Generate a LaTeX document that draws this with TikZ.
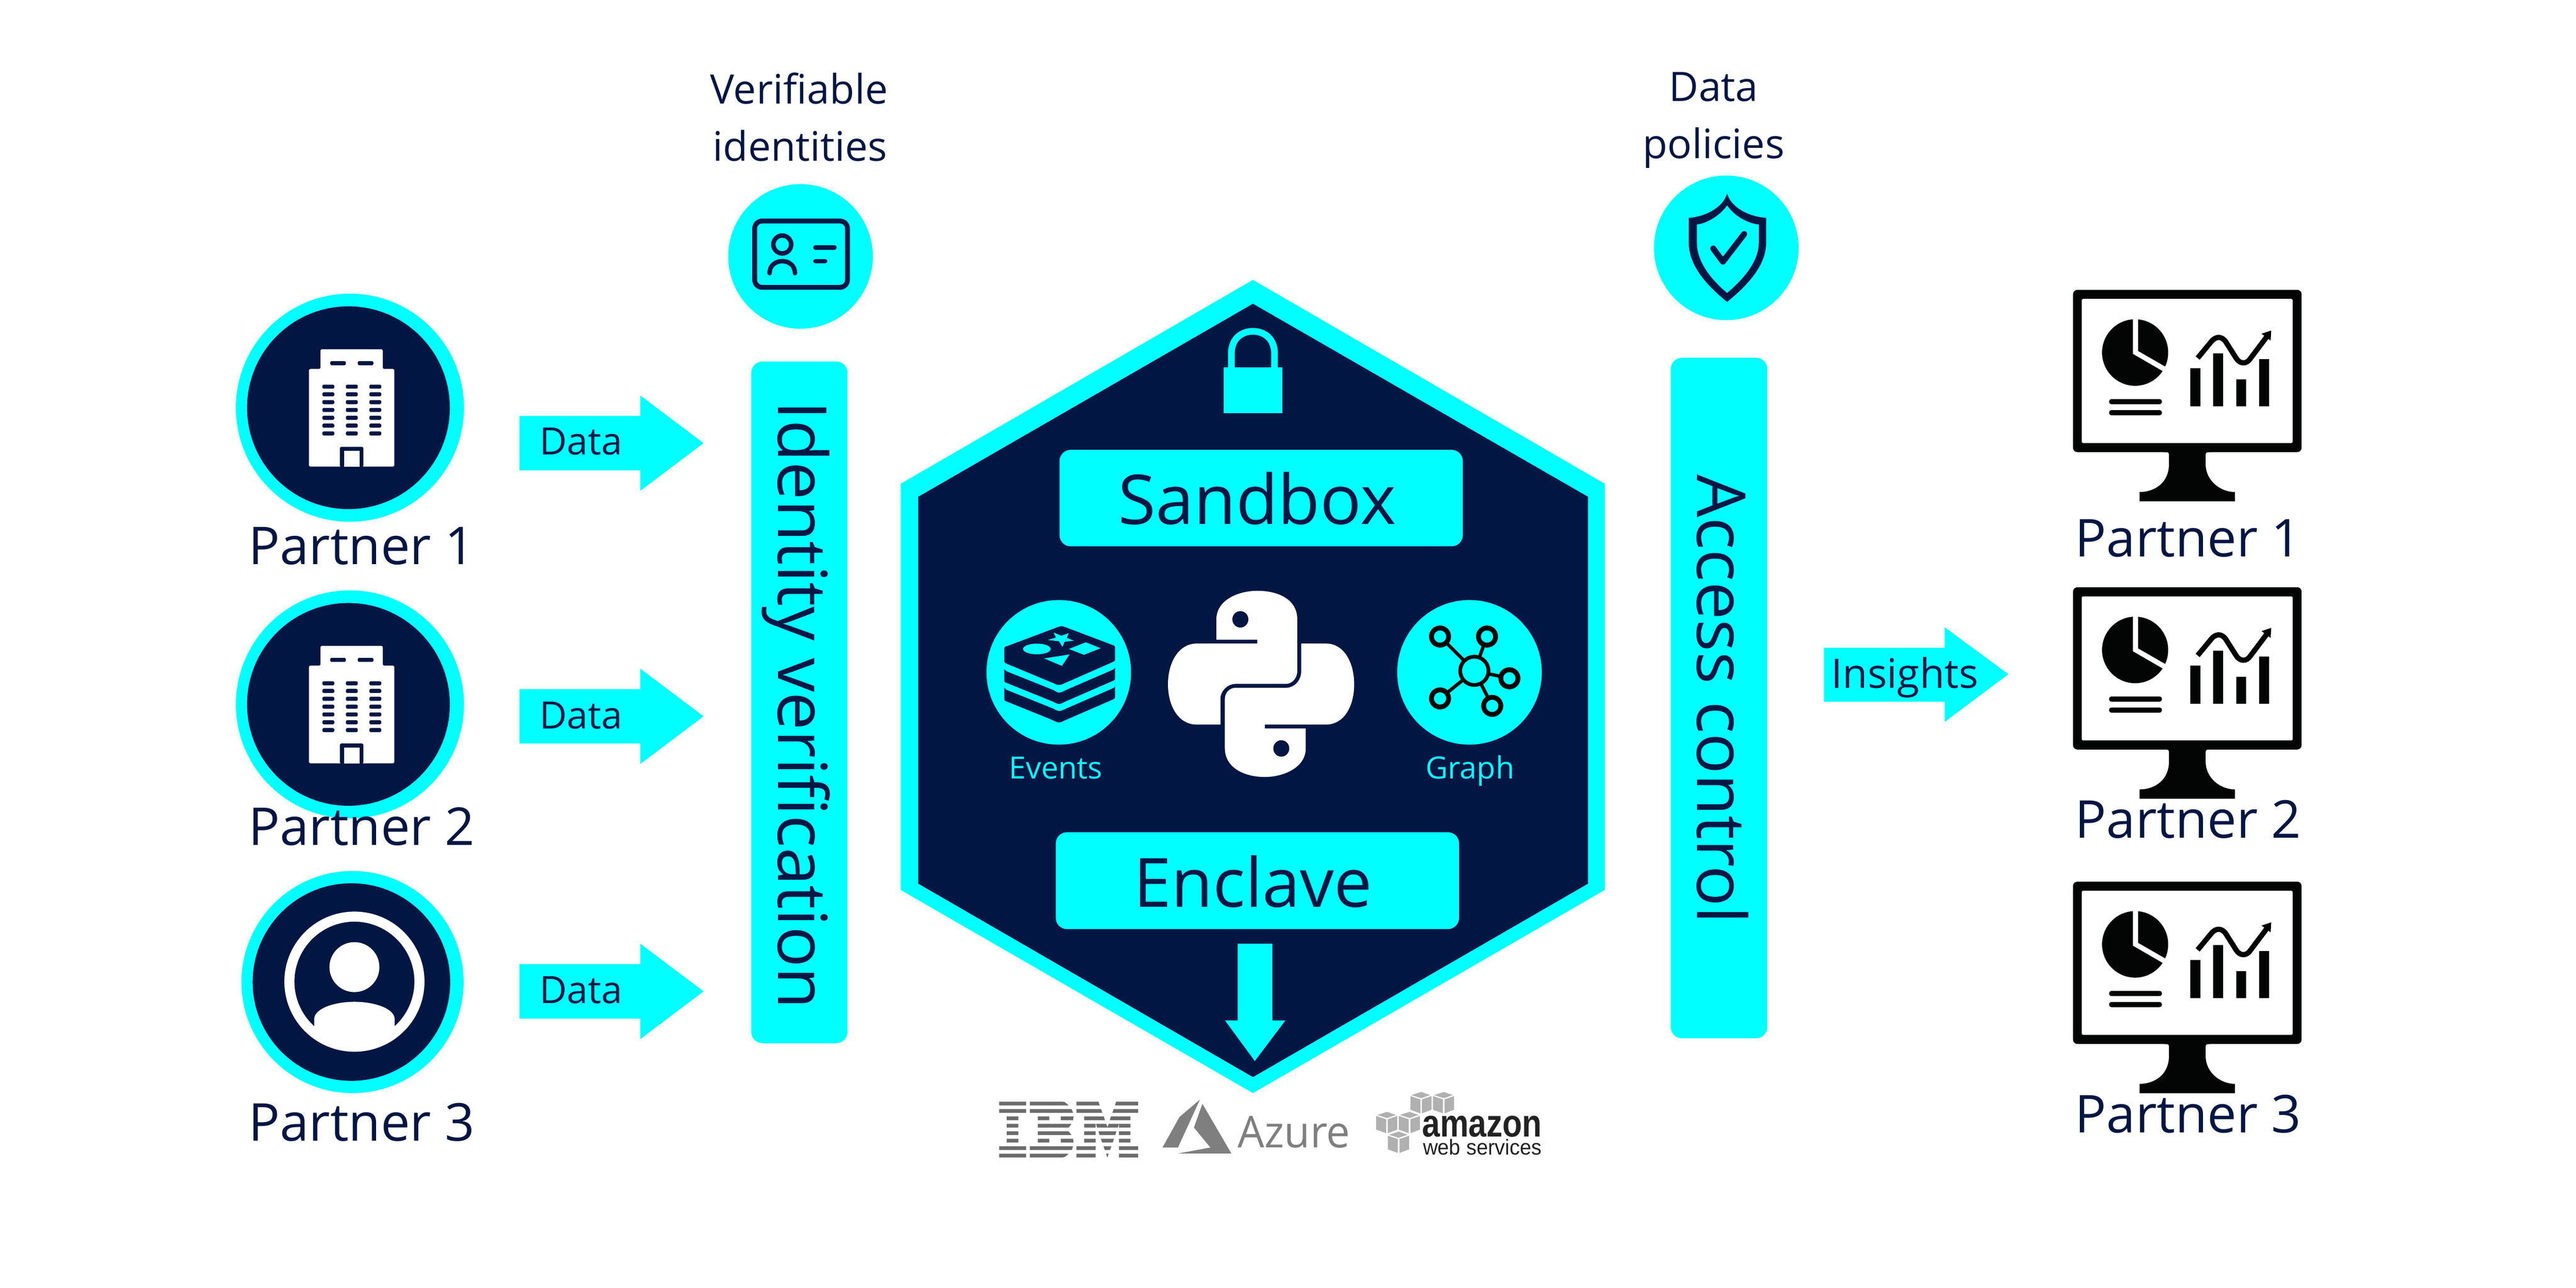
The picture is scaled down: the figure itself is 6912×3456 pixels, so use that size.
\documentclass[tikz,border=0pt]{standalone}
\usepackage{fontspec}
\setmainfont[Ligatures=NoCommon]{Open Sans}
\newfontfamily\libs{Liberation Sans}
\definecolor{navy}{HTML}{021644}
\definecolor{cyn}{HTML}{00FFFF}
\definecolor{blk}{HTML}{030504}
\definecolor{ibmg}{HTML}{6B6B6B}
\definecolor{azg}{HTML}{7F7F7F}
\definecolor{cubeg}{HTML}{B0B0B0}
\definecolor{amz}{HTML}{222222}
\newcommand\fs[1]{\fontsize{#1pt}{#1pt}\selectfont}
\tikzset{
  lbl/.style={inner sep=0pt,text=navy,anchor=base},
  lblw/.style={inner sep=0pt,text=navy,anchor=base west},
  vlbl/.style={inner sep=0pt,text=navy,anchor=base,rotate=-90},
  zoomtwo/.style={shift={(2400,700)},x=1.3393pt,y=-0.957pt},
  zoomthree/.style={shift={(2400,2200)},x=1.3393pt,y=-0.67pt},
  zoomfive/.style={shift={(1850,100)},x=1.976pt,y=-0.51pt}
}
\newcommand\bldg[1]{%
 \begin{scope}[shift={(0,#1)}]
  \fill[white,rounded corners=4pt] (860,990) -- (860,937) -- (1027,937) -- (1027,990) -- (1058,990) -- (1058,1252) -- (829,1252) -- (829,990) -- cycle;
  \fill[navy,rounded corners=4pt] (886,969) rectangle (928,980) (960,969) rectangle (1002,980);
  \foreach \yy in {1037.5,1058,1079,1100,1121,1142,1163}{
    \foreach \xx in {865,928,991}{
      \fill[navy,rounded corners=4pt] (\xx,\yy-5.5) rectangle (\xx+32,\yy+5.5);
    }
  }
  \fill[navy,rounded corners=4pt] (912,1253) -- (912,1199) -- (975,1199) -- (975,1253) -- cycle;
  \fill[white] (923,1210) rectangle (965,1252);
 \end{scope}}
\newcommand\mon[1]{%
 \begin{scope}[shift={(5500,720+#1)},x=0.51pt,y=-0.51pt]
  \fill[blk,rounded corners=12pt] (122,113) rectangle (1325,967);
  \fill[white,rounded corners=4pt] (168,161) rectangle (1278,919);
  \fill[blk] (600,960) -- (600,967) .. controls (627,967) .. (627,990) -- (627,1030) .. controls (627,1130) and (550,1177) .. (472,1177) -- (472,1226) -- (974,1226) -- (974,1177) .. controls (900,1177) and (820,1120) .. (820,1030) -- (820,990) .. controls (820,967) .. (847,967) -- (847,960) -- cycle;
  \begin{scope}
   \clip (437,200) -- (437,450) -- (620,556) -- (620,700) -- (200,700) -- (200,200) -- cycle;
   \fill[blk] (449,443) ellipse [x radius=174,y radius=175];
  \end{scope}
  \begin{scope}
   \clip (465,200) -- (465,435) -- (700,570) -- (700,200) -- cycle;
   \fill[blk] (449,443) ellipse [x radius=174,y radius=175];
  \end{scope}
  \fill[blk,rounded corners=6pt] (312,688) rectangle (590,715) (312,746) rectangle (590,773);
  \fill[blk] (739,525) rectangle (792,726) (859,447) rectangle (912,726) (981,584) rectangle (1033,726) (1102,478) rectangle (1154,726);
  \draw[blk,line width=14pt] (778,472) -- (850,385) .. controls (875,355) and (905,358) .. (925,385) -- (980,472) .. controls (1000,505) and (1035,505) .. (1055,475) -- (1140,362);
  \fill[blk] (1114,344) -- (1165,327) -- (1162,380) -- cycle;
 \end{scope}}
\newcommand\cubeg[2]{%
 \begin{scope}[shift={(#1,#2)}]
  \fill[cubeg] (262,25) -- (340,0) -- (412,25) -- (340,50) -- cycle;
  \fill[cubeg] (253,33) -- (333,60) -- (333,172) -- (253,143) -- cycle;
  \fill[cubeg] (346,60) -- (423,33) -- (423,143) -- (346,172) -- cycle;
 \end{scope}}
\newcommand\dataarrow[1]{%
 \fill[cyn] (1394,#1-73) -- (1718,#1-73) -- (1718,#1-128) -- (1888,#1) -- (1718,#1+128) -- (1718,#1+73) -- (1394,#1+73) -- cycle;}
\begin{document}
\begin{tikzpicture}[x=1pt,y=-1pt]
\useasboundingbox (0,0) rectangle (6912,3456);
\fill[white] (0,0) rectangle (6912,3456);

% left partners
\fill[cyn] (939,1094) circle [radius=306];
\fill[navy] (935,1094) circle [radius=272];
\bldg{0}
\node[lblw] (lp1) at (667,1515) {\fs{140}Partner 1};
\fill[cyn] (939,1890) circle [radius=306];
\fill[navy] (935,1890) circle [radius=272];
\bldg{796}
\node[lblw] (lp2) at (667,2268) {\fs{140}Partner 2};
\fill[cyn] (946,2635) circle [radius=298];
\fill[navy] (943,2635) circle [radius=265];
\draw[white,line width=27pt] (951,2634) circle [radius=174.5];
\fill[white] (951,2595) circle [radius=67];
\begin{scope}
 \clip (951,2634) circle [radius=180];
 \fill[white] (843,2860) -- (843,2735) .. controls (843,2705) and (900,2688) .. (951,2688) .. controls (1002,2688) and (1059,2705) .. (1059,2735) -- (1059,2860) -- cycle;
\end{scope}
\node[lblw] (lp3) at (667,3061) {\fs{140}Partner 3};

% data arrows
\dataarrow{1189}
\dataarrow{1922}
\dataarrow{2660}
\node[lblw] (d1) at (1448,1220) {\fs{101}Data};
\node[lblw] (d2) at (1448,1955) {\fs{101}Data};
\node[lblw] (d3) at (1448,2692) {\fs{101}Data};

% identity bar
\fill[cyn,rounded corners=30pt] (2016,970) rectangle (2274,2799);
\node[vlbl] (idv) at (2088,1892) {\fs{182}Identity verification};
\node[lbl] (v1) at (2144,279) {\fs{109}Verifiable};
\node[lbl] (v2) at (2147,432) {\fs{109}identities};
\fill[cyn] (2148,688) circle [radius=194];
\draw[navy,line width=13pt,rounded corners=20pt] (2025,593) rectangle (2274,771);
\draw[navy,line width=12pt] (2099,656) circle [radius=24];
\draw[navy,line width=12pt,line cap=round] (2065,733) .. controls (2065,690) and (2133,690) .. (2133,733);
\draw[navy,line width=12pt,line cap=round] (2188,664) -- (2239,664) (2188,701) -- (2214,701);

% access bar
\fill[cyn,rounded corners=30pt] (4483,960) rectangle (4742,2786);
\node[vlbl] (acc) at (4554,1876) {\fs{181}Access control};
\node[lbl] (p1) at (4598,272) {\fs{109}Data};
\node[lbl] (p2) at (4598,425) {\fs{109}policies};
\fill[cyn] (4632,665) circle [radius=194];
\begin{scope}[zoomfive]
 \fill[navy] (1409,823) .. controls (1415,900) and (1440,945) .. (1462,950) -- (1462,1080) .. controls (1462,1180) and (1445,1280) .. (1409,1392) .. controls (1373,1280) and (1357,1180) .. (1357,1080) -- (1357,950) .. controls (1378,945) and (1403,900) .. cycle;
 \fill[cyn] (1409,885) .. controls (1420,945) and (1438,980) .. (1452,985) -- (1452,1080) .. controls (1452,1170) and (1435,1260) .. (1409,1345) .. controls (1383,1260) and (1368,1170) .. (1368,1080) -- (1368,985) .. controls (1380,980) and (1398,945) .. cycle;
\end{scope}
\draw[navy,line width=16pt,line cap=round,line join=round] (4597,667) -- (4623,702) -- (4680,628);

% hexagon
\fill[cyn] (3362,751) -- (4306,1298) -- (4306,2388) -- (3362,2933) -- (2417,2388) -- (2417,1298) -- cycle;
\fill[navy] (3362,815) -- (4261,1333) -- (4261,2371) -- (3362,2890) -- (2464,2371) -- (2464,1333) -- cycle;
% lock
\fill[cyn] (3283,985) rectangle (3441,1108);
\draw[cyn,line width=18pt] (3304,990) -- (3304,950) .. controls (3304,905) and (3335,889) .. (3362,889) .. controls (3389,889) and (3420,905) .. (3420,950) -- (3420,990);
% sandbox, enclave
\fill[cyn,rounded corners=30pt] (2843,1207) rectangle (3925,1466);
\node[lbl] (sb) at (3373,1406) {\fs{184}Sandbox};
\fill[cyn,rounded corners=30pt] (2833,2233) rectangle (3915,2493);
\node[lbl] (en) at (3362,2434) {\fs{182}Enclave};
% arrow down
\fill[cyn] (3321,2532) -- (3414,2532) -- (3414,2738) -- (3449,2738) -- (3367,2847) -- (3287,2738) -- (3321,2738) -- cycle;

% events
\fill[cyn] (2841,1804) circle [radius=194];
\begin{scope}[shift={(2640,1600)},x=0.3333pt,y=-0.3333pt]
 \fill[navy] (164,735) .. controls (170,745) .. (180,752) -- (560,905) .. controls (605,930) .. (660,905) -- (1040,740) .. controls (1050,735) .. (1056,722) -- (1056,810) .. controls (1055,820) .. (1040,830) -- (660,995) .. controls (605,1022) .. (550,995) -- (180,845) .. controls (165,838) .. (164,825) -- cycle;
 \fill[navy] (164,585) .. controls (170,595) .. (185,605) -- (560,755) .. controls (605,783) .. (660,755) -- (1030,595) .. controls (1050,585) .. (1056,572) -- (1056,662) .. controls (1055,672) .. (1040,680) -- (660,845) .. controls (605,873) .. (550,845) -- (190,700) .. controls (165,690) .. (164,678) -- cycle;
 \fill[navy] (164,420) .. controls (165,408) .. (190,400) -- (590,250) .. controls (625,238) .. (660,250) -- (1030,390) .. controls (1050,397) .. (1056,408) -- (1056,510) .. controls (1055,520) .. (1035,530) -- (660,695) .. controls (605,720) .. (550,695) -- (190,545) .. controls (170,537) .. (164,525) -- cycle;
 \fill[cyn] (427,424) ellipse [x radius=111,y radius=43];
 \fill[cyn] (685,424) -- (820,370) -- (940,418) -- (806,471) -- cycle;
 \fill[cyn] (485,500) -- (690,468) -- (628,560) -- cycle;
 \fill[cyn] (562,292) -- (623,317) -- (683,297) -- (667,335) -- (725,357) -- (650,366) -- (632,407) -- (605,362) -- (515,352) -- (580,332) -- cycle;
\end{scope}
\node[lbl,text=cyn] (ev) at (2833,2090) {\fs{82}Events};

% python
\begin{scope}[zoomtwo]
 \fill[white] (645,1062) -- (645,1005) .. controls (645,950) and (690,925) .. (727,925) .. controls (770,925) and (807,950) .. (807,1005) -- (807,1150) .. controls (807,1172) and (795,1186) .. (785,1186) -- (683,1186) .. controls (668,1186) and (653,1205) .. (653,1228) -- (653,1300) -- (605,1300) .. controls (570,1300) and (548,1250) .. (548,1187) .. controls (548,1125) and (570,1073) .. (605,1073) -- (727,1073) -- (727,1062) -- cycle;
 \fill[white] (815,1073) -- (865,1073) .. controls (900,1073) and (921,1125) .. (921,1187) .. controls (921,1250) and (900,1300) .. (865,1300) -- (742,1300) -- (742,1311) -- (824,1311) -- (824,1367) .. controls (824,1420) and (780,1447) .. (742,1447) .. controls (700,1447) and (662,1420) .. (662,1367) -- (662,1228) .. controls (662,1210) and (672,1197) .. (683,1197) -- (785,1197) .. controls (800,1197) and (815,1178) .. (815,1150) -- cycle;
 \fill[navy] (693,1005) ellipse [x radius=16,y radius=23];
 \fill[navy] (775,1367) ellipse [x radius=16,y radius=23];
\end{scope}

% graph
\fill[cyn] (3943,1804) circle [radius=194];
\draw[blk,line width=9pt] (3956,1800) -- (3864,1708) (3956,1800) -- (3990,1708) (3956,1800) -- (4050,1820) (3956,1800) -- (3864,1874) (3956,1800) -- (4004,1894);
\foreach \cx/\cy in {3864/1708,3990/1708,4050/1820,3864/1874,4004/1894}{
  \draw[blk,fill=cyn,line width=13pt] (\cx,\cy) circle [radius=23];
}
\draw[blk,fill=cyn,line width=10pt] (3956,1800) circle [radius=38];
\node[lbl,text=cyn] (gr) at (3945,2090) {\fs{82}Graph};

% logos: IBM
\begin{scope}[shift={(2660,2930)},x=0.3333pt,y=-0.3333pt]
 \fill[ibmg] (63,78) rectangle (280,108) (63,137) rectangle (280,167) (63,437) rectangle (280,467) (63,497) rectangle (280,527);
 \fill[ibmg] (124,197) rectangle (217,227) (124,257) rectangle (217,287) (124,317) rectangle (217,347) (124,377) rectangle (217,407);
 \fill[ibmg] (311,78) -- (555,78) .. controls (590,78) .. (622,108) -- (311,108) -- cycle;
 \fill[ibmg] (311,137) -- (645,137) -- (658,167) -- (311,167) -- cycle;
 \fill[ibmg] (374,197) rectangle (466,227) (560,197) -- (662,197) -- (658,227) -- (560,227) -- cycle;
 \fill[ibmg] (374,257) -- (645,257) -- (622,287) -- (374,287) -- cycle;
 \fill[ibmg] (374,317) -- (622,317) -- (645,347) -- (374,347) -- cycle;
 \fill[ibmg] (374,377) rectangle (466,407) (560,377) -- (658,377) -- (662,407) -- (560,407) -- cycle;
 \fill[ibmg] (311,437) -- (658,437) -- (648,467) -- (311,467) -- cycle;
 \fill[ibmg] (311,497) -- (622,497) .. controls (590,527) .. (555,527) -- (311,527) -- cycle;
 \fill[ibmg] (685,78) -- (862,78) -- (873,108) -- (685,108) -- cycle;
 \fill[ibmg] (1005,78) -- (1182,78) -- (1182,108) -- (995,108) -- cycle;
 \fill[ibmg] (685,137) -- (883,137) -- (893,167) -- (685,167) -- cycle;
 \fill[ibmg] (985,137) -- (1182,137) -- (1182,167) -- (975,167) -- cycle;
 \fill[ibmg] (747,197) -- (905,197) -- (915,227) -- (747,227) -- cycle;
 \fill[ibmg] (963,197) -- (1120,197) -- (1120,227) -- (953,227) -- cycle;
 \fill[ibmg] (747,257) rectangle (840,287) (1027,257) rectangle (1120,287);
 \fill[ibmg] (843,257) -- (925,257) -- (935,283) -- (945,257) -- (1027,257) -- (1018,287) -- (851,287) -- cycle;
 \fill[ibmg] (747,317) rectangle (840,347) (1027,317) rectangle (1120,347);
 \fill[ibmg] (862,317) -- (1007,317) -- (997,347) -- (872,347) -- cycle;
 \fill[ibmg] (747,377) rectangle (840,407) (1027,377) rectangle (1120,407);
 \fill[ibmg] (882,377) -- (987,377) -- (977,407) -- (892,407) -- cycle;
 \fill[ibmg] (685,437) rectangle (840,467) (1027,437) rectangle (1182,467);
 \fill[ibmg] (903,437) -- (966,437) -- (955,467) -- (913,467) -- cycle;
 \fill[ibmg] (685,497) rectangle (840,527) (1027,497) rectangle (1182,527);
 \fill[ibmg] (923,497) -- (945,497) -- (934,527) -- cycle;
\end{scope}

% Azure
\begin{scope}[zoomthree]
 \fill[azg] (537,1312) -- (571,1190) -- (612,1120) -- (568,1312) -- cycle;
 \fill[azg] (617,1137) -- (675,1336) -- (568,1336) -- (633,1312) -- (600,1232) -- cycle;
\end{scope}
\node[inner sep=0pt,anchor=base west,text=azg,xscale=0.96,transform shape] (az) at (3321,3079) {\fs{118}Azure};

% Amazon
\begin{scope}[shift={(3700,2930)},x=0.3333pt,y=-0.3333pt]
 \cubeg{0}{0}
 \cubeg{182}{0}
 \cubeg{-275}{160}
 \cubeg{-93}{160}
 \cubeg{-181}{319}
\end{scope}
\node[inner sep=0pt,anchor=base west,text=amz,xscale=0.83,transform shape] (am) at (3816,3050) {\libs\bfseries\fs{104}amazon};
\node[inner sep=0pt,anchor=base west,text=amz,xscale=0.95,transform shape] (ws) at (3818,3099) {\libs\fs{58}web services};

% insights
\fill[cyn] (4894,1738) -- (5218,1738) -- (5218,1683) -- (5389,1809) -- (5218,1937) -- (5218,1883) -- (4894,1883) -- cycle;
\node[lblw] (ins) at (4914,1846) {\fs{109}Insights};

% monitors
\mon{0}
\mon{798}
\mon{1588}
\node[lblw] (rp1) at (5568,1494) {\fs{140}Partner 1};
\node[lblw] (rp2) at (5568,2248) {\fs{140}Partner 2};
\node[lblw] (rp3) at (5568,3039) {\fs{140}Partner 3};
\end{tikzpicture}
\end{document}
